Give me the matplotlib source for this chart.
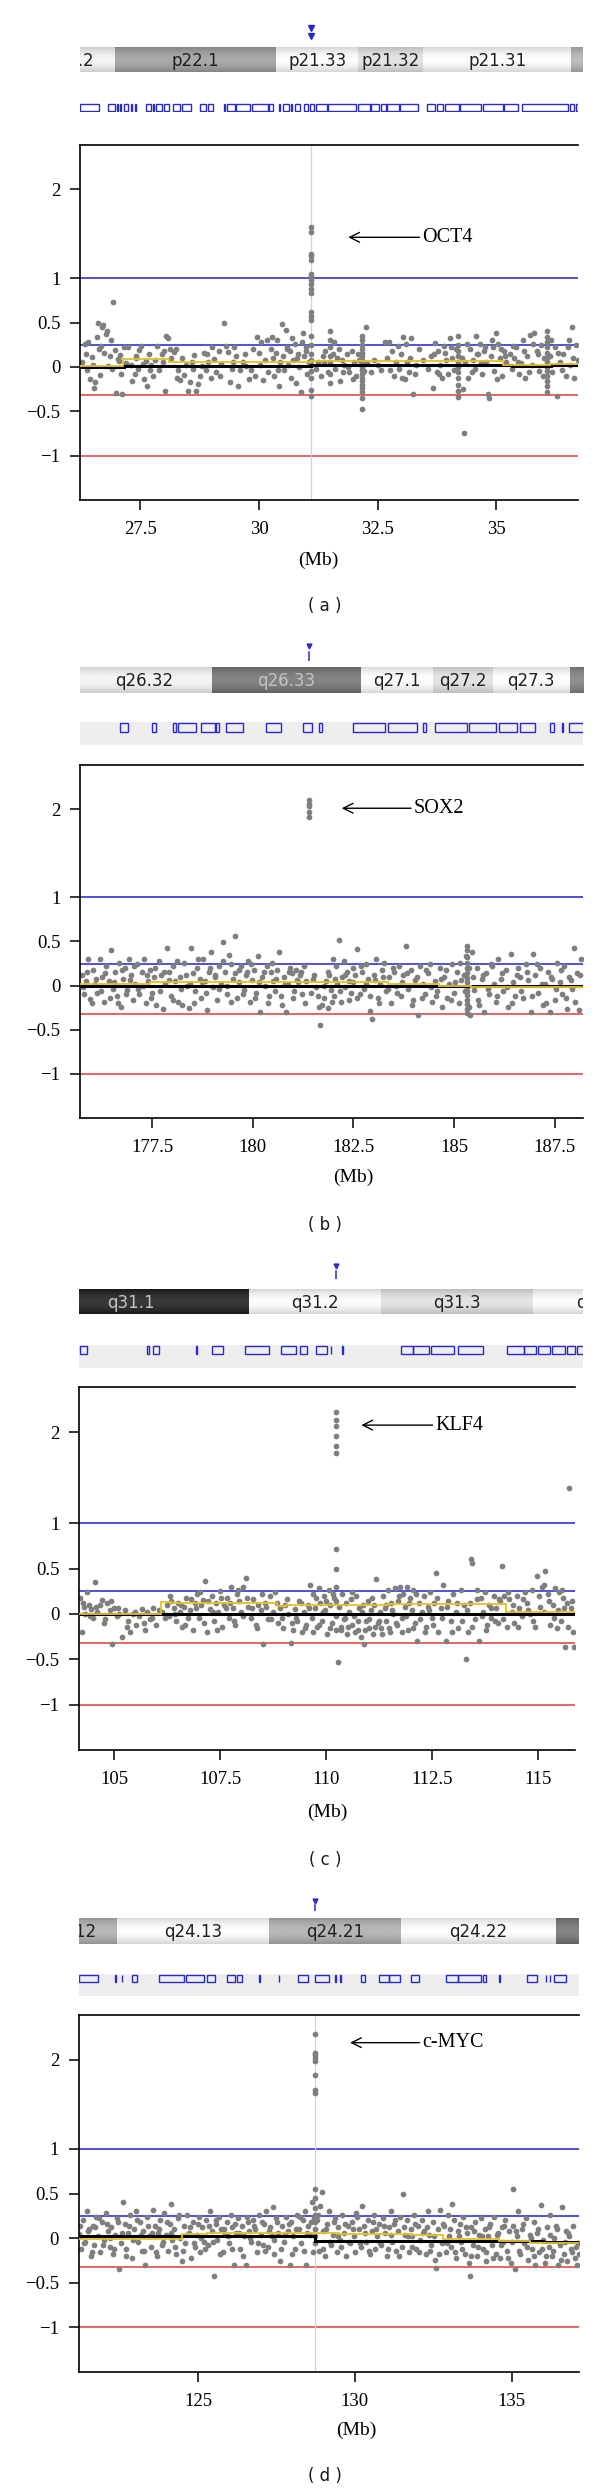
import numpy as np
import matplotlib
matplotlib.use('Agg')
import matplotlib.pyplot as plt
from matplotlib.patches import Rectangle

plt.rcParams['font.family'] = ['Liberation Serif', 'DejaVu Serif']

# ---------------- panel (a) : OCT4, chr6 ----------------
a_xlim = (26.23, 36.72)
a_xticks = [27.5, 30, 32.5, 35]
a_x = [26.28, 26.33, 26.37, 26.40, 26.45, 26.48, 26.52, 26.55, 26.58, 26.61, 26.64, 26.66, 26.70, 26.72, 26.74,
       26.78, 26.80, 26.83, 26.86, 26.90, 26.93, 26.96, 26.99, 27.02, 27.05, 27.08, 27.12, 27.15, 27.20,
       27.25, 27.30, 27.33, 27.38, 27.42, 27.45, 27.48, 27.52, 27.55, 27.58, 27.62, 27.65, 27.68, 27.72, 27.76,
       27.80, 27.85, 27.90, 27.95, 27.98, 28.02, 28.05, 28.08, 28.12, 28.15, 28.20,
       28.25, 28.30, 28.34, 28.38, 28.42, 28.47, 28.50, 28.55, 28.60, 28.63, 28.68, 28.72, 28.76, 28.80, 28.85,
       28.88, 28.93, 28.98, 29.02, 29.06, 29.10, 29.15, 29.20,
       29.26, 29.30, 29.34, 29.38, 29.43, 29.47, 29.52, 29.56, 29.60, 29.66, 29.72, 29.78, 29.84, 29.88, 29.92,
       29.96, 30.00, 30.04, 30.08, 30.12, 30.16, 30.20,
       30.25, 30.28, 30.32, 30.35, 30.38, 30.42, 30.45, 30.48, 30.50, 30.53, 30.56, 30.60, 30.62, 30.65, 30.68,
       30.72, 30.75, 30.78, 30.82, 30.85, 30.88, 30.92, 30.95, 30.98, 31.02, 31.05,
       31.25, 31.30, 31.35, 31.40, 31.45, 31.55, 31.60, 31.65, 31.70, 31.75, 31.80, 31.85, 31.90, 31.95, 32.00,
       32.05, 32.10,
       32.22, 32.25, 32.28, 32.35, 32.42, 32.50, 32.58, 32.65, 32.70, 32.73, 32.76, 32.80, 32.84, 32.88, 32.92,
       32.96, 33.00, 33.04, 33.08, 33.12, 33.16, 33.20, 33.25, 33.30, 33.38,
       33.45, 33.55, 33.62, 33.66, 33.70, 33.74, 33.78, 33.82, 33.86, 33.90, 33.95, 33.99, 34.03, 34.07, 34.10,
       34.14, 34.27, 34.30, 34.32,
       34.35, 34.40, 34.45, 34.50, 34.55, 34.58, 34.62, 34.66, 34.70, 34.74, 34.78, 34.82, 34.85, 34.88, 34.92,
       34.96, 35.00, 35.04, 35.08, 35.12, 35.16, 35.20,
       35.28, 35.33, 35.38, 35.42, 35.47, 35.52, 35.56, 35.60, 35.65, 35.70, 35.75, 35.80, 35.85, 35.90, 35.95,
       36.00, 36.12, 36.18, 36.24, 36.28, 36.34, 36.40, 36.46, 36.52, 36.56, 36.60, 36.64, 36.68, 36.71]
a_y = [0.05, 0.26, -0.04, 0.28, -0.14, 0.11, -0.24, -0.17, 0.34, 0.50, 0.20, -0.09, 0.45, 0.47, 0.16,
       0.37, 0.40, 0.01, 0.12, -0.02, 0.73, 0.19, -0.29, 0.09, 0.07, 0.13, -0.30, 0.22, 0.04,
       0.22, 0.02, -0.16, -0.08, 0.12, -0.02, 0.19, 0.24, 0.03, -0.14, 0.07, -0.21, 0.15, 0.02, -0.10,
       0.08, 0.24, -0.04, 0.14, 0.05, -0.27, 0.35, 0.32, 0.20, 0.10, 0.17,
       0.20, -0.03, -0.15, 0.10, -0.09, 0.02, -0.27, -0.17, -0.02, 0.13, -0.27, -0.19, -0.10, 0.01, 0.16,
       -0.04, 0.06, -0.13, 0.22, 0.09, -0.06, 0.18, 0.03,
       0.50, 0.24, 0.17, -0.17, -0.02, 0.22, 0.12, -0.21, -0.04, 0.05, 0.01, -0.14, -0.03, 0.20, -0.10,
       0.34, 0.16, 0.28, -0.15, 0.08, 0.30, -0.06,
       0.20, 0.34, -0.10, 0.16, 0.30, -0.22, 0.06, 0.48, 0.12, -0.04, 0.41, 0.22, 0.02, 0.18, -0.12,
       0.08, 0.26, -0.18, 0.14, 0.00, -0.28, 0.38, 0.12, 0.22, -0.08, 0.05,
       0.05, -0.10, 0.12, 0.18, -0.06, 0.15, -0.02, 0.10, -0.16, 0.08, 0.02, 0.14, -0.06, 0.18, 0.05,
       -0.10, 0.08,
       -0.05, 0.45, 0.04, -0.06, 0.08, 0.02, -0.04, 0.28, 0.10, 0.28, -0.03, 0.18, -0.10, 0.06, 0.24,
       -0.02, 0.14, 0.34, -0.14, 0.06, -0.06, 0.32, -0.31, 0.02, 0.20,
       0.08, -0.02, 0.12, -0.24, 0.27, -0.06, 0.18, 0.02, -0.12, 0.24, 0.08, -0.08, 0.32, 0.10, -0.04,
       0.20, 0.10, -0.25, -0.74,
       0.05, -0.12, 0.20, 0.08, -0.02, 0.35, 0.14, 0.26, -0.08, 0.18, 0.05, -0.30, -0.35, 0.12, 0.22,
       -0.05, 0.38, 0.26, 0.10, -0.10, 0.18, 0.05,
       0.15, -0.02, 0.10, 0.22, -0.08, 0.04, 0.30, -0.12, 0.12, 0.36, 0.02, 0.38, 0.18, -0.05, 0.25,
       0.10, 0.12, -0.06, 0.22, -0.33, 0.05, 0.15, -0.10, 0.30, 0.02, 0.45, -0.12, 0.25, 0.08]
a_x2 = [26.35, 26.50, 26.68, 26.88, 27.10, 27.40, 27.70, 28.00, 28.28, 28.58,
        28.90, 29.18, 29.45, 29.70, 30.02, 30.30, 30.40, 30.58, 30.70, 30.80,
        30.90, 31.00, 31.20, 31.38, 31.58, 31.68, 31.78, 31.88, 31.98, 32.08,
        32.14, 33.02, 33.10, 33.18, 33.28, 33.68, 33.80, 33.92, 34.05, 34.38,
        34.48, 34.60, 34.68, 34.76, 34.90, 35.02, 35.10, 35.18, 35.36, 35.45,
        35.58, 35.68, 35.78, 35.88, 35.98, 36.15, 36.30, 36.38, 36.50, 36.62]
a_y2 = [0.14, 0.02, 0.24, 0.30, -0.08, 0.10, -0.04, 0.18, -0.12, 0.06,
        0.14, -0.10, 0.06, 0.14, 0.02, 0.10, -0.04, 0.20, 0.32, 0.10,
        0.28, 0.18, -0.02, 0.06, 0.28, 0.20, -0.06, 0.00, -0.14, 0.14,
        0.08, -0.12, 0.26, 0.10, -0.08, 0.14, -0.08, 0.16, 0.22, 0.26,
        -0.06, 0.14, 0.04, 0.22, 0.30, -0.14, 0.20, 0.12, 0.24, 0.06,
        0.18, -0.06, 0.26, 0.14, -0.10, 0.30, 0.16, -0.04, 0.22, 0.10]
# probes stacked at one position
a_col_pos = [31.10, 31.50, 32.18, 34.19, 36.06]
a_col_vals = [[1.58, 1.52, 1.27, 1.25, 1.20, 1.05, 1.02, 0.98, 0.93, 0.88, 0.83, 0.62, 0.57, 0.53, 0.35,
               0.25, 0.15, 0.08, 0.02, -0.05, -0.12, -0.26, -0.33],
              [0.40, 0.30, 0.22, 0.12, 0.05, -0.08, -0.18],
              [0.35, 0.30, 0.25, 0.20, 0.16, 0.12, 0.08, 0.04, 0.00, -0.04, -0.08, -0.12, -0.16, -0.20,
               -0.24, -0.28, -0.35, -0.48],
              [0.35, 0.25, 0.18, 0.12, 0.06, 0.00, -0.06, -0.12, -0.20, -0.27, -0.34],
              [0.40, 0.34, 0.28, 0.22, 0.16, 0.10, 0.05, 0.00, -0.05, -0.10, -0.16, -0.22, -0.28]]
a_black_edges = [26.23, 27.15, 31.10, 35.33, 36.15, 36.72]
a_black_vals = [0.00, 0.01, 0.02, 0.01, 0.02]
a_yellow_edges = [26.23, 27.14, 28.11, 30.87, 31.10, 35.13, 36.14, 36.72]
a_yellow_vals = [0.01, 0.09, 0.055, 0.05, 0.07, 0.02, 0.03]
a_band_edges = [25.10, 26.97, 30.36, 32.09, 33.46, 36.58, 37.50]
a_band_names = ['p22.2', 'p22.1', 'p21.33', 'p21.32', 'p21.31', '']
a_band_tones = [0.95, 0.62, 0.99, 0.88, 0.99, 0.70]
a_genes = [(26.23, 26.64), (26.83, 26.96), (27.00, 27.02), (27.07, 27.09), (27.15, 27.24), (27.30, 27.32),
           (27.38, 27.40), (27.62, 27.72), (27.77, 27.79), (27.83, 27.95), (27.99, 28.11), (28.19, 28.34),
           (28.38, 28.56), (28.76, 28.88), (28.92, 29.04), (29.26, 29.28), (29.33, 29.49), (29.51, 29.81),
           (29.86, 30.18), (30.22, 30.30), (30.42, 30.44), (30.50, 30.63), (30.67, 30.69), (30.75, 30.87),
           (30.95, 31.03), (31.07, 31.15), (31.21, 31.44), (31.45, 32.04), (32.09, 32.33), (32.37, 32.53),
           (32.57, 32.67), (32.69, 32.94), (32.98, 33.34), (33.53, 33.71), (33.75, 33.87), (33.91, 34.21),
           (34.23, 34.68), (34.72, 35.13), (35.17, 35.45), (35.53, 36.51), (36.55, 36.63), (36.67, 36.83)]
a_gene_pos = 31.10
a_note = ('OCT4', 31.88, 33.38, 1.46)

# ---------------- panel (b) : SOX2, chr3 ----------------
b_xlim = (175.71, 188.2)
b_xticks = [177.5, 180, 182.5, 185, 187.5]
b_x = [175.75, 175.80, 175.86, 175.92, 175.97, 176.03, 176.08, 176.14, 176.20, 176.25, 176.30, 176.36,
       176.42, 176.48, 176.53, 176.58, 176.63, 176.68,
       176.72, 176.77, 176.82, 176.87, 176.92, 176.97, 177.02, 177.08, 177.13, 177.18, 177.24, 177.30,
       177.35, 177.40, 177.45, 177.50, 177.55, 177.60, 177.66,
       177.72, 177.78, 177.83, 177.88, 177.93, 177.98, 178.03, 178.08, 178.14, 178.20, 178.25, 178.30,
       178.36, 178.41, 178.46, 178.52, 178.57, 178.62, 178.68,
       178.72, 178.77, 178.82, 178.87, 178.92, 178.97, 179.02, 179.07, 179.12, 179.17, 179.22, 179.27,
       179.32, 179.37, 179.42, 179.47, 179.52, 179.57, 179.62, 179.67,
       179.72, 179.77, 179.82, 179.87, 179.92, 179.97, 180.02, 180.07, 180.12, 180.18, 180.24, 180.30,
       180.35, 180.40, 180.45, 180.50, 180.55, 180.60, 180.66,
       180.72, 180.77, 180.82, 180.87, 180.92, 180.97, 181.02, 181.07, 181.12, 181.17, 181.22, 181.27,
       181.32, 181.45, 181.50, 181.56, 181.62, 181.68,
       181.73, 181.78, 181.82, 181.86, 181.90, 181.94, 181.98, 182.02, 182.06, 182.10, 182.13, 182.18,
       182.22, 182.26, 182.30, 182.35, 182.40, 182.45, 182.50, 182.55, 182.60, 182.66,
       182.72, 182.77, 182.82, 182.87, 182.92, 182.96, 183.00, 183.05, 183.10, 183.15, 183.20, 183.26,
       183.32, 183.38, 183.44, 183.50, 183.56, 183.62, 183.68,
       183.74, 183.80, 183.86, 183.92, 183.98, 184.04, 184.10, 184.16, 184.22, 184.28, 184.34, 184.40,
       184.46, 184.52, 184.58, 184.64, 184.70,
       184.76, 184.82, 184.88, 184.94, 185.00, 185.06, 185.12, 185.18, 185.24, 185.40, 185.45, 185.50,
       185.56, 185.62, 185.68,
       185.74, 185.80, 185.86, 185.92, 185.98, 186.04, 186.10, 186.16, 186.22, 186.28, 186.34, 186.40,
       186.46, 186.52, 186.58, 186.64,
       186.72, 186.78, 186.84, 186.90, 186.96, 187.02, 187.08, 187.14, 187.20, 187.26, 187.32, 187.38,
       187.44, 187.50, 187.56, 187.62, 187.68,
       187.74, 187.80, 187.86, 187.92, 187.98, 188.04, 188.10, 188.16]
b_y = [0.12, -0.10, 0.05, 0.30, -0.15, 0.18, 0.02, -0.08, 0.30, 0.10, -0.18, 0.22, 0.05, 0.40, -0.04,
       0.15, -0.12, 0.26,
       -0.24, 0.08, 0.20, -0.05, 0.30, 0.12, -0.16, 0.02, 0.25, -0.10, 0.15, 0.30, -0.20, 0.05, 0.18,
       -0.08, 0.10, -0.22, 0.28,
       0.12, -0.26, 0.02, 0.43, 0.15, -0.12, 0.22, 0.05, -0.18, 0.10, -0.22, 0.26, 0.00, -0.25, 0.43,
       0.14, -0.06, 0.20, 0.08,
       -0.14, 0.30, 0.05, -0.28, 0.16, 0.38, -0.02, 0.12, -0.16, 0.22, 0.02, 0.49, 0.15, -0.10, 0.35,
       0.25, 0.08, 0.56, -0.14, 0.18,
       0.22, -0.05, 0.12, 0.28, -0.18, 0.06, 0.18, -0.08, 0.34, -0.30, 0.10, 0.00, 0.22, -0.12, 0.15,
       0.05, -0.06, 0.18, 0.38,
       -0.22, 0.10, -0.30, 0.02, 0.20, 0.14, -0.06, 0.18, 0.04, 0.12, -0.10, 0.22, 0.05, -0.08, 0.08,
       -0.02, -0.12, -0.45,
       -0.22, -0.14, 0.05, -0.25, 0.12, -0.05, 0.30, -0.12, 0.22, 0.02, 0.52, -0.18, 0.10, 0.28, -0.02,
       0.16, 0.05, -0.08, 0.20, 0.12, 0.42, -0.10,
       0.15, -0.04, 0.25, 0.08, -0.29, -0.38, 0.12, 0.30, -0.14, 0.02, 0.18, 0.26, -0.06, 0.10, -0.20,
       0.16, 0.00, 0.22, -0.12,
       0.12, 0.45, -0.04, 0.18, -0.16, 0.06, -0.33, 0.22, 0.02, -0.10, 0.14, 0.25, -0.18, 0.05, -0.06,
       0.20, -0.24,
       0.10, -0.14, 0.02, 0.24, -0.08, 0.15, -0.20, 0.06, 0.12, -0.33, 0.38, -0.05, 0.20, -0.22, 0.08,
       -0.30, 0.14, -0.10, 0.24, 0.02, -0.18, 0.30, 0.08, -0.06, 0.18, -0.24, 0.36, 0.04, -0.12, 0.20,
       0.10,
       -0.14, 0.24, 0.06, -0.30, 0.36, 0.12, -0.08, 0.20, -0.22, 0.02, 0.16, -0.30, 0.08, -0.16, 0.26,
       0.04, -0.10,
       0.22, -0.26, 0.10, -0.04, 0.43, 0.14, -0.28, 0.30]
b_x2 = [175.78, 175.89, 176.00, 176.11, 176.22, 176.33, 176.45, 176.56, 176.66, 176.75,
        176.85, 176.95, 177.05, 177.16, 177.27, 177.38, 177.48, 177.58, 177.69, 177.80,
        177.91, 178.01, 178.11, 178.22, 178.33, 178.44, 178.55, 178.65, 178.75, 178.85,
        178.95, 179.05, 179.15, 179.25, 179.35, 179.45, 179.55, 179.65, 179.75, 179.85,
        179.95, 180.05, 180.15, 180.27, 180.38, 180.48, 180.58, 180.69, 180.80, 180.90,
        181.00, 181.10, 181.20, 181.30, 181.53, 181.65, 181.76, 181.88, 181.96, 182.04,
        182.16, 182.28, 182.38, 182.48, 182.58, 182.69, 182.80, 182.90, 183.03, 183.13,
        183.24, 183.35, 183.47, 183.59, 183.71, 183.83, 183.95, 184.07, 184.19, 184.31,
        184.43, 184.55, 184.67, 184.79, 184.91, 185.03, 185.15, 185.27, 185.30, 185.36,
        185.38, 185.48, 185.59, 185.71, 185.83, 185.95, 186.07, 186.19, 186.31, 186.43,
        186.55, 186.67, 186.81, 186.93, 187.05, 187.17, 187.29, 187.41, 187.53, 187.65,
        187.77, 187.89, 188.01, 188.13]
b_y2 = [-0.02, 0.16, -0.20, 0.08, -0.06, 0.14, -0.14, 0.04, -0.20, 0.18,
        -0.10, 0.06, 0.22, -0.04, 0.00, 0.12, -0.14, 0.20, -0.06, 0.16,
        0.06, -0.16, 0.28, -0.04, 0.12, 0.02, -0.20, 0.30, 0.04, -0.08,
        0.20, 0.10, -0.04, 0.28, 0.00, -0.18, 0.14, 0.04, -0.10, 0.16,
        0.24, -0.14, 0.04, 0.16, -0.20, 0.26, 0.08, -0.12, 0.02, 0.16,
        -0.14, 0.06, 0.16, -0.20, 0.12, -0.24, 0.00, 0.16, -0.18, 0.08,
        -0.06, 0.12, -0.16, 0.04, -0.14, 0.22, 0.02, -0.12, 0.06, -0.20,
        0.10, -0.04, 0.20, -0.08, 0.04, 0.14, -0.22, 0.10, -0.14, 0.18,
        -0.02, -0.12, 0.08, 0.18, -0.16, 0.04, 0.26, -0.06, 0.34, -0.24,
        0.20, 0.10, -0.16, 0.12, -0.04, 0.22, -0.12, 0.14, -0.02, -0.20,
        0.12, -0.06, 0.16, -0.12, 0.24, 0.02, -0.20, 0.10, -0.04, 0.18,
        -0.14, 0.06, -0.18, 0.12]
b_col_pos = [181.40, 185.33]
b_col_vals = [[2.10, 2.06, 2.03, 1.97, 1.91],
              [0.45, 0.40, 0.32, 0.26, 0.20, 0.14, 0.09, 0.04, -0.01, -0.06, -0.11, -0.16, -0.21, -0.26,
               -0.31]]
b_black_edges = [175.71, 184.62, 188.2]
b_black_vals = [0.00, 0.00]
b_yellow_edges = [175.71, 177.45, 181.42, 183.37, 184.62, 185.43, 188.2]
b_yellow_vals = [0.02, 0.04, 0.045, 0.02, 0.0, -0.015]
b_band_edges = [175.60, 178.99, 182.68, 184.47, 185.96, 187.87, 189.0]
b_band_names = ['q26.32', 'q26.33', 'q27.1', 'q27.2', 'q27.3', '']
b_band_tones = [0.95, 0.45, 0.99, 0.88, 0.99, 0.50]
b_genes = [(176.71, 176.90), (177.50, 177.60), (178.01, 178.10), (178.14, 178.58), (178.71, 179.06),
           (179.08, 179.17), (179.34, 179.76), (180.32, 180.70), (181.25, 181.46), (181.65, 181.73),
           (182.50, 183.28), (183.35, 184.09), (184.23, 184.31), (184.52, 185.33), (185.38, 186.05),
           (186.12, 186.57), (186.64, 187.00), (187.39, 187.48), (187.69, 187.71), (187.86, 188.30)]
b_gene_pos = 181.40
b_note = ('SOX2', 182.21, 183.93, 2.01)

# ---------------- panel (c) : KLF4, chr9 ----------------
c_xlim = (104.17, 115.87)
c_xticks = [105, 107.5, 110, 112.5, 115]
c_x = [104.20, 104.24, 104.28, 104.32, 104.36, 104.40, 104.45, 104.50, 104.55, 104.60, 104.66, 104.72,
       104.78, 104.84, 104.90, 104.95, 105.00, 105.06, 105.12, 105.18,
       105.25, 105.32, 105.38, 105.45, 105.52, 105.58, 105.65, 105.72, 105.78, 105.85, 105.92, 105.98,
       106.05, 106.12,
       106.25, 106.30, 106.35, 106.40, 106.45, 106.50, 106.55, 106.60, 106.65, 106.70, 106.75, 106.80,
       106.85, 106.90, 106.95, 107.00, 107.05, 107.10, 107.15, 107.20,
       107.25, 107.30, 107.35, 107.40, 107.45, 107.50, 107.55, 107.60, 107.65, 107.70, 107.75, 107.80,
       107.85, 107.90, 107.95, 108.00, 108.05, 108.10, 108.15,
       108.22, 108.28, 108.34, 108.40, 108.46, 108.50, 108.56, 108.62, 108.68, 108.74, 108.80, 108.86,
       108.92, 108.98, 109.04, 109.10, 109.17,
       109.22, 109.27, 109.32, 109.37, 109.42, 109.47, 109.52, 109.57, 109.62, 109.66, 109.70, 109.74,
       109.78, 109.82, 109.86, 109.90, 109.94, 109.98, 110.02, 110.06, 110.10, 110.14, 110.18, 110.29,
       110.30, 110.34, 110.38, 110.42, 110.46, 110.50, 110.54, 110.58, 110.62, 110.66, 110.70, 110.74,
       110.78, 110.82, 110.86, 110.90, 110.94, 110.98, 111.02, 111.06, 111.10, 111.14, 111.18, 111.22,
       111.26,
       111.30, 111.34, 111.38, 111.42, 111.46, 111.50, 111.54, 111.58, 111.62, 111.66, 111.70, 111.74,
       111.78, 111.82, 111.86, 111.90, 111.94, 111.98, 112.02, 112.06, 112.10, 112.15, 112.20, 112.25,
       112.30, 112.35, 112.40, 112.45, 112.50, 112.55, 112.59, 112.64, 112.70, 112.76, 112.82, 112.88,
       112.94, 113.00, 113.06, 113.12, 113.18, 113.24, 113.29,
       113.34, 113.39, 113.42, 113.45, 113.50, 113.55, 113.60, 113.65, 113.70, 113.75, 113.80, 113.85,
       113.90, 113.95, 114.00, 114.05, 114.10, 114.15, 114.20, 114.26,
       114.32, 114.38, 114.44, 114.50, 114.56, 114.62, 114.68, 114.74, 114.80, 114.86, 114.92, 114.98,
       115.04, 115.10, 115.17, 115.23, 115.29, 115.35, 115.41, 115.47, 115.53, 115.58, 115.63, 115.68,
       115.73, 115.78, 115.83, 115.85]
c_y = [0.18, -0.20, 0.08, 0.00, 0.24, 0.10, 0.05, -0.05, 0.35, 0.02, 0.10, 0.15, -0.06, 0.12, 0.04,
       -0.33, 0.06, -0.02, 0.00, -0.26,
       0.04, -0.08, -0.20, 0.00, -0.12, -0.02, 0.05, -0.18, 0.02, -0.06, 0.06, -0.12, 0.04, 0.02,
       0.10, -0.02, 0.14, 0.06, -0.08, 0.12, 0.02, -0.15, 0.08, 0.18, -0.05, 0.04, -0.18, 0.12, 0.22,
       -0.04, 0.10, 0.15, 0.36, -0.20,
       0.05, 0.20, -0.08, 0.12, 0.02, 0.25, -0.14, 0.10, 0.18, -0.04, 0.30, 0.06, -0.12, 0.22, 0.14,
       0.02, 0.30, 0.40, 0.08,
       -0.04, 0.16, -0.12, 0.10, 0.04, -0.33, 0.12, -0.06, 0.20, 0.02, 0.24, -0.10, 0.06, -0.16, 0.10,
       0.00, -0.32,
       -0.18, 0.05, -0.08, 0.14, -0.20, 0.02, -0.12, 0.10, 0.32, -0.05, 0.22, 0.06, -0.15, 0.28, 0.12,
       -0.08, 0.20, 0.04, -0.22, 0.26, 0.10, -0.10, 0.18, -0.53,
       0.08, -0.14, 0.22, -0.06, 0.12, -0.22, 0.02, 0.16, -0.12, -0.02, 0.20, -0.18, 0.06, -0.26, 0.10,
       -0.33, -0.08, 0.14, -0.16, 0.04, -0.22, 0.10, 0.38, -0.10, 0.02,
       -0.16, 0.20, 0.06, -0.08, 0.26, -0.20, 0.12, 0.00, 0.28, -0.12, 0.14, 0.30, -0.04, 0.22, 0.08,
       0.30, -0.18, 0.18, 0.04, 0.26, -0.10, -0.30, 0.12, 0.02,
       0.20, -0.14, 0.08, 0.24, -0.04, 0.12, 0.45, -0.20, 0.06, 0.32, -0.30, 0.14, -0.08, 0.22, 0.02,
       -0.16, 0.26, 0.10, -0.50,
       -0.20, 0.12, 0.60, 0.56, -0.06, 0.26, -0.30, 0.18, 0.02, 0.24, -0.12, 0.10, -0.04, 0.20, 0.06,
       -0.10, 0.14, 0.53, 0.20, -0.14,
       0.16, 0.02, -0.10, 0.20, 0.06, -0.02, 0.24, 0.12, 0.00, 0.26, -0.14, 0.42, 0.08, 0.30, 0.47,
       0.22, -0.12, 0.10, 0.28, 0.04, -0.08, 0.18, -0.37, 0.12, 1.39, 0.06, -0.20, -0.36]
c_x2 = [104.26, 104.42, 104.58, 104.75, 104.92, 105.10, 105.30, 105.50, 105.70, 105.90,
        106.20, 106.32, 106.43, 106.57, 106.68, 106.82, 106.92, 107.02, 107.12, 107.22,
        107.33, 107.43, 107.53, 107.63, 107.73, 107.83, 107.93, 108.03, 108.13, 108.25,
        108.37, 108.48, 108.59, 108.71, 108.83, 108.95, 109.07, 109.20, 109.30, 109.40,
        109.50, 109.60, 109.68, 109.76, 109.84, 109.92, 110.00, 110.08, 110.16, 110.36,
        110.44, 110.52, 110.60, 110.68, 110.76, 110.84, 110.92, 111.00, 111.08, 111.16,
        111.24, 111.32, 111.40, 111.48, 111.56, 111.64, 111.72, 111.80, 111.88, 111.96,
        112.04, 112.12, 112.22, 112.32, 112.42, 112.52, 112.62, 112.73, 112.85, 112.97,
        113.09, 113.21, 113.32, 113.44, 113.57, 113.68, 113.78, 113.88, 113.98, 114.08,
        114.18, 114.29, 114.41, 114.53, 114.65, 114.77, 114.89, 115.01, 115.13, 115.26,
        115.38, 115.50, 115.61, 115.71, 115.80, 115.15, 115.44, 115.56]
c_y2 = [0.12, -0.02, 0.08, -0.10, 0.14, 0.06, -0.14, 0.02, -0.10, -0.04,
        -0.04, 0.20, 0.00, 0.10, -0.12, 0.16, 0.06, 0.24, -0.10, 0.14,
        0.02, -0.18, 0.18, 0.06, 0.12, -0.08, 0.26, -0.02, 0.18, 0.06,
        -0.16, 0.22, 0.08, -0.06, 0.12, -0.04, 0.16, -0.10, -0.04, 0.12,
        -0.16, 0.06, -0.20, 0.18, -0.12, 0.02, 0.14, -0.16, 0.22, -0.18,
        -0.04, -0.14, 0.24, -0.20, -0.08, 0.02, -0.18, -0.06, 0.18, -0.14,
        -0.08, -0.22, 0.10, -0.16, 0.04, -0.10, 0.20, -0.20, -0.02, 0.12,
        -0.16, 0.22, -0.06, -0.20, 0.04, -0.12, 0.18, -0.04, 0.08, -0.20,
        0.12, -0.08, 0.04, -0.14, 0.16, -0.02, -0.18, 0.06, -0.08, 0.16,
        -0.06, 0.24, 0.10, -0.14, 0.16, 0.04, -0.08, 0.20, 0.02, 0.14,
        -0.04, 0.24, 0.06, -0.14, 0.14, 0.32, -0.16, 0.26]
c_col_pos = [110.23]
c_col_vals = [[2.23, 2.14, 2.07, 1.96, 1.85, 1.77, 0.72, 0.50, 0.30, 0.14, -0.02, -0.18]]
c_black_edges = [104.17, 115.87]
c_black_vals = [0.00]
c_yellow_edges = [104.17, 106.10, 106.35, 108.85, 109.05, 111.45, 114.25, 115.87]
c_yellow_vals = [0.00, 0.13, 0.12, 0.09, 0.10, 0.11, 0.02]
c_band_edges = [102.61, 108.18, 111.29, 114.88, 117.66]
c_band_names = ['q31.1', 'q31.2', 'q31.3', 'q32']
c_band_tones = [0.12, 0.99, 0.88, 0.99]
c_genes = [(104.19, 104.35), (105.75, 105.80), (105.89, 106.03), (106.88, 106.91), (107.25, 107.52),
           (108.02, 108.57), (108.86, 109.20), (109.29, 109.47), (109.67, 109.93), (110.01, 110.03),
           (110.28, 110.30), (111.65, 111.92), (111.92, 112.29), (112.33, 112.88), (112.97, 113.56),
           (114.10, 114.51), (114.51, 114.78), (114.83, 115.10), (115.14, 115.46), (115.51, 115.69),
           (115.73, 116.05)]
c_gene_pos = 110.23
c_note = ('KLF4', 110.83, 112.51, 2.08)

# ---------------- panel (d) : c-MYC, chr8 ----------------
d_xlim = (121.19, 137.15)
d_xticks = [125, 130, 135]
d_x = [121.22, 121.28, 121.34, 121.40, 121.46, 121.52, 121.58, 121.64, 121.70, 121.76, 121.82, 121.88,
       121.94, 122.00, 122.06, 122.12, 122.18,
       122.24, 122.30, 122.36, 122.42, 122.48, 122.54, 122.60, 122.66, 122.72, 122.78, 122.84, 122.90,
       122.96, 123.02, 123.08, 123.14, 123.20,
       123.26, 123.32, 123.38, 123.44, 123.50, 123.56, 123.62, 123.68, 123.74, 123.80, 123.86, 123.92,
       123.98, 124.04, 124.10, 124.14, 124.18,
       124.24, 124.30, 124.36, 124.42, 124.48, 124.54, 124.60, 124.66, 124.72, 124.78, 124.84, 124.90,
       124.96, 125.02, 125.08, 125.14, 125.20,
       125.26, 125.32, 125.38, 125.44, 125.50, 125.56, 125.62, 125.68, 125.74, 125.80, 125.86, 125.92,
       125.98, 126.04, 126.10, 126.16,
       126.22, 126.28, 126.34, 126.40, 126.46, 126.52, 126.58, 126.64, 126.70, 126.76, 126.82, 126.88,
       126.94, 127.00, 127.06, 127.12, 127.18,
       127.24, 127.30, 127.36, 127.39, 127.44, 127.50, 127.56, 127.62, 127.68, 127.74, 127.80, 127.86,
       127.92, 127.98, 128.04, 128.10, 128.16,
       128.22, 128.28, 128.34, 128.40, 128.46, 128.52, 128.58, 128.64, 128.70,
       128.80, 128.86, 128.90, 128.95, 129.00, 129.06, 129.12, 129.18, 129.24, 129.30, 129.36, 129.42,
       129.48, 129.54, 129.60, 129.66, 129.72, 129.78,
       129.84, 129.90, 129.96, 130.02, 130.08, 130.14, 130.20, 130.24, 130.30, 130.36, 130.42, 130.48,
       130.54, 130.60, 130.66, 130.72, 130.78,
       130.84, 130.90, 130.96, 131.02, 131.08, 131.14, 131.20, 131.26, 131.32, 131.38, 131.44, 131.50,
       131.54, 131.60, 131.66, 131.72, 131.78,
       131.84, 131.90, 131.96, 132.02, 132.08, 132.14, 132.20, 132.26, 132.32, 132.38, 132.44, 132.50,
       132.56, 132.60, 132.66, 132.72, 132.78,
       132.84, 132.90, 132.96, 133.02, 133.08, 133.10, 133.16, 133.22, 133.28, 133.34, 133.40, 133.46,
       133.52, 133.58, 133.64, 133.67, 133.72, 133.78,
       133.84, 133.90, 133.96, 134.02, 134.08, 134.14, 134.20, 134.26, 134.32, 134.38, 134.44, 134.50,
       134.56, 134.62, 134.68, 134.74, 134.80,
       134.86, 134.92, 134.98, 135.04, 135.06, 135.10, 135.16, 135.22, 135.28, 135.34, 135.40, 135.46,
       135.52, 135.58, 135.64, 135.70, 135.76,
       135.82, 135.88, 135.94, 136.00, 136.06, 136.12, 136.18, 136.24, 136.30, 136.36, 136.42, 136.48,
       136.54, 136.60, 136.66, 136.72, 136.78, 136.84, 136.90, 136.96, 137.02, 137.08, 137.12]
d_y = [0.05, -0.12, 0.20, -0.04, 0.30, 0.10, -0.20, 0.14, -0.08, 0.24, 0.02, -0.16, 0.18, -0.02, 0.28,
       0.08, -0.10,
       0.12, -0.18, 0.04, 0.22, -0.35, -0.06, 0.40, 0.16, -0.12, 0.06, 0.26, -0.22, 0.10, 0.30, -0.04,
       0.18, -0.14,
       0.08, -0.30, 0.24, 0.02, -0.10, 0.32, 0.14, -0.20, 0.06, 0.20, -0.08, 0.28, 0.04, -0.14, 0.16,
       0.38, -0.02,
       0.10, -0.18, 0.22, 0.00, -0.26, 0.14, -0.06, 0.26, 0.06, -0.22, 0.18, -0.10, 0.04, 0.24, -0.16,
       0.12, -0.04,
       0.20, -0.08, 0.30, 0.08, -0.42, 0.16, -0.02, 0.24, 0.10, -0.16, 0.04, 0.18, -0.06, 0.26, 0.12,
       -0.30,
       0.06, 0.22, -0.12, 0.14, 0.02, -0.30, 0.18, 0.08, -0.04, 0.20, 0.10, -0.16, 0.26, 0.04, -0.08,
       0.16, 0.30,
       -0.10, 0.12, 0.02, 0.35, -0.18, 0.22, 0.06, -0.26, 0.14, -0.04, 0.24, 0.08, -0.30, 0.18, 0.02,
       -0.12, 0.26,
       0.10, -0.06, 0.20, 0.30, -0.30, 0.14, 0.04, 0.40, 0.22,
       0.20, -0.14, 0.36, 0.52, 0.08, -0.20, 0.16, 0.30, -0.08, 0.04, 0.22, -0.16, 0.12, -0.02, 0.26,
       0.06, -0.20, 0.14,
       -0.06, 0.18, 0.02, -0.16, 0.24, 0.10, -0.10, 0.36, 0.14, -0.04, 0.20, -0.18, 0.08, 0.26, -0.12,
       0.02, 0.16,
       -0.08, 0.22, 0.06, -0.20, 0.12, 0.30, -0.04, 0.16, -0.14, 0.08, 0.24, -0.10, 0.50, 0.04, 0.20,
       -0.16, 0.10,
       0.02, 0.26, -0.12, 0.14, -0.02, 0.20, 0.08, -0.18, 0.30, 0.04, -0.08, 0.18, -0.24, -0.33, 0.10,
       0.32, -0.06,
       0.14, -0.16, 0.26, 0.02, -0.10, 0.38, 0.20, -0.22, 0.08, 0.16, -0.04, 0.24, -0.18, 0.06, -0.28,
       -0.42, 0.12, -0.08,
       0.18, -0.20, 0.04, 0.22, -0.12, 0.10, -0.26, 0.02, 0.16, -0.08, 0.24, -0.18, 0.06, -0.22, 0.12,
       -0.04, 0.20,
       -0.14, 0.08, -0.28, 0.14, 0.55, -0.35, 0.02, 0.30, -0.18, 0.10, -0.06, 0.22, -0.24, 0.04, -0.12,
       0.18, -0.30,
       0.06, -0.16, 0.37, -0.02, -0.28, 0.12, -0.10, 0.26, -0.20, 0.00, 0.14, -0.30, -0.08, 0.35, -0.18,
       0.08, -0.26, 0.02, -0.12, 0.14, -0.22, -0.30, -0.06]
d_x2 = [121.25, 121.37, 121.49, 121.61, 121.73, 121.85, 121.97, 122.09, 122.21, 122.33,
        122.45, 122.57, 122.69, 122.81, 122.93, 123.05, 123.17, 123.29, 123.41, 123.53,
        123.65, 123.77, 123.89, 124.01, 124.13, 124.27, 124.39, 124.51, 124.63, 124.75,
        124.87, 124.99, 125.11, 125.23, 125.35, 125.47, 125.59, 125.71, 125.83, 125.95,
        126.07, 126.19, 126.31, 126.43, 126.55, 126.67, 126.79, 126.91, 127.03, 127.15,
        127.27, 127.41, 127.53, 127.65, 127.77, 127.89, 128.01, 128.13, 128.25, 128.37,
        128.49, 128.61, 128.67, 128.83, 128.98, 129.09, 129.21, 129.33, 129.45, 129.57,
        129.69, 129.81, 129.93, 130.05, 130.17, 130.33, 130.45, 130.57, 130.69, 130.81,
        130.93, 131.05, 131.17, 131.29, 131.41, 131.57, 131.69, 131.81, 131.93, 132.05,
        132.17, 132.29, 132.41, 132.53, 132.69, 132.81, 132.93, 133.05, 133.19, 133.31,
        133.43, 133.55, 133.70, 133.81, 133.93, 134.05, 134.17, 134.29, 134.41, 134.53,
        134.65, 134.77, 134.89, 135.01, 135.13, 135.25, 135.37, 135.49, 135.61, 135.73,
        135.85, 135.97, 136.09, 136.21, 136.33, 136.45, 136.57, 136.69, 136.81, 136.93,
        137.05, 137.14]
d_y2 = [0.14, -0.06, 0.08, -0.16, 0.12, 0.22, -0.08, 0.16, 0.00, -0.12,
        0.18, 0.06, -0.20, 0.14, -0.02, 0.20, 0.04, -0.14, 0.14, 0.06,
        -0.16, 0.10, -0.04, 0.18, 0.06, -0.10, 0.26, -0.14, 0.04, 0.12,
        -0.06, 0.16, 0.00, -0.12, 0.14, -0.04, 0.20, -0.18, 0.10, 0.02,
        -0.12, 0.16, 0.06, -0.20, 0.24, 0.00, 0.14, -0.06, 0.18, -0.14,
        0.08, -0.02, 0.18, -0.12, 0.04, 0.16, -0.18, 0.10, 0.24, -0.14,
        0.06, 0.18, -0.16, 0.26, -0.12, 0.10, -0.04, 0.18, 0.02, -0.10,
        0.16, -0.04, 0.10, 0.28, -0.06, 0.06, -0.14, 0.18, 0.10, -0.06,
        0.14, -0.12, 0.04, 0.20, -0.20, 0.12, 0.02, -0.10, 0.16, -0.16,
        0.06, 0.12, -0.14, 0.02, -0.18, 0.16, -0.06, 0.10, -0.16, 0.02,
        -0.12, 0.12, -0.20, 0.08, -0.10, 0.02, -0.16, 0.12, -0.22, 0.04,
        -0.08, 0.14, -0.22, -0.04, 0.08, -0.14, 0.16, -0.10, 0.00, -0.20,
        0.10, -0.12, -0.20, 0.04, -0.14, 0.10, -0.24, -0.04, 0.06, -0.16,
        -0.10, -0.18]
d_col_pos = [128.74]
d_col_vals = [[2.29, 2.07, 2.05, 2.02, 1.99, 1.83, 1.66, 1.63, 0.55, 0.45, 0.34, 0.26, 0.18, 0.10, 0.02,
               -0.06]]
d_black_edges = [121.19, 128.74, 136.0, 137.15]
d_black_vals = [0.02, -0.03, -0.04]
d_yellow_edges = [121.19, 124.5, 125.3, 129.5, 131.8, 132.8, 134.6, 135.6, 137.15]
d_yellow_vals = [-0.01, 0.05, 0.06, 0.05, 0.04, -0.01, -0.03, -0.06]
d_band_edges = [119.22, 122.42, 127.27, 131.48, 136.42, 138.0]
d_band_names = ['q24.12', 'q24.13', 'q24.21', 'q24.22', '']
d_band_tones = [0.68, 0.99, 0.68, 0.99, 0.45]
d_genes = [(121.20, 121.81), (122.35, 122.37), (122.57, 122.59), (122.91, 123.07), (123.77, 124.55),
           (124.63, 125.18), (125.28, 125.55), (125.92, 126.17), (126.23, 126.41), (126.95, 126.97),
           (127.57, 127.59), (128.19, 128.50), (128.72, 129.17), (129.37, 129.39), (129.53, 129.55),
           (130.21, 130.31), (130.77, 131.10), (131.10, 131.44), (131.79, 132.06), (132.91, 133.28),
           (133.28, 134.02), (134.08, 134.20), (134.60, 134.62), (135.49, 135.80), (136.09, 136.11),
           (136.22, 136.24), (136.35, 136.72)]
d_gene_pos = 128.74
d_note = ('c-MYC', 129.85, 132.06, 2.19)

W, H = 600, 2491
fig = plt.figure(figsize=(W / 100, H / 100), dpi=100)

BLUE = '#5050e0'
RED = '#e86464'
GENE = '#2a2acc'


def px_axes(left, top, right, bottom):
    return fig.add_axes([left / W, 1 - bottom / H, (right - left) / W, (bottom - top) / H])


def stretch(xlim, left, right, new_right):
    k = (xlim[1] - xlim[0]) / (right - left)
    return (xlim[0], xlim[0] + (new_right - left) * k)


def draw_ideogram(box, xlim, edges, names, tones):
    ax = px_axes(*box)
    s = np.sin(np.linspace(0, np.pi, 40))[:, None]
    for i in range(len(names)):
        t = tones[i]
        img = np.clip(t * (0.85 + 0.15 * s) + 0.12 * s * (1 - t), 0, 1)
        ax.imshow(img, cmap='gray', vmin=0, vmax=1, aspect='auto', interpolation='bilinear',
                  extent=[edges[i], edges[i + 1], 0, 1])
        if names[i]:
            ax.text((edges[i] + edges[i + 1]) / 2, 0.45, names[i], ha='center', va='center',
                    fontsize=12, family='DejaVu Sans', clip_on=True,
                    color='#c4c4c4' if t < 0.5 else '#202020')
    ax.set_xlim(xlim)
    ax.set_ylim(0, 1)
    ax.axis('off')


def draw_genes(box, xlim, genes, y0, y1, bg):
    ax = px_axes(*box)
    ax.set_xlim(xlim)
    ax.set_ylim(0, 1)
    ax.set_facecolor(bg)
    for s, e in genes:
        ax.add_patch(Rectangle((s, y0), max(e - s, 0.02), y1 - y0, fill=False, edgecolor=GENE, lw=1))
    for sp in ax.spines.values():
        sp.set_visible(False)
    ax.set_xticks([])
    ax.set_yticks([])


def draw_marker(box, xlim, pos, n_tri=1):
    ax = px_axes(*box)
    ax.set_xlim(xlim)
    ax.set_ylim(0, 1)
    ax.axis('off')
    if n_tri == 2:
        ax.plot([pos, pos], [0.75, 0.25], ls='none', marker='v', ms=4.5, color=GENE)
    else:
        ax.plot([pos], [0.8], ls='none', marker='v', ms=3.5, color=GENE)
        ax.plot([pos, pos], [0.0, 0.5], color=GENE, lw=1.1)


def draw_main(box, xlim, xticks, pts, col_pos, col_vals, black, yellow, note, vline=None):
    ax = px_axes(*box)
    x, y = [], []
    for xs, ys in pts:
        x += list(xs)
        y += list(ys)
    for p, vals in zip(col_pos, col_vals):
        x += [p] * len(vals)
        y += vals
    for v, c in [(1, BLUE), (0.25, BLUE), (-0.32, RED), (-1, RED)]:
        ax.axhline(v, color=c, lw=1.4, zorder=1)
    if vline is not None:
        ax.axvline(vline, color='#cdd0f2', lw=0.9, zorder=1)
    ax.scatter(x, y, s=17, color='#7f7f7f', linewidths=0, zorder=2)
    ax.stairs(black[1], black[0], baseline=None, color='black', lw=2.2, zorder=3)
    ax.stairs(yellow[1], yellow[0], baseline=None, color='#e6c21e', lw=1.3, zorder=4)
    name, head, tail, yv = note
    ax.annotate('', xy=(head, yv), xytext=(tail, yv),
                arrowprops=dict(arrowstyle='->,head_length=0.7,head_width=0.35', color='black', lw=1,
                                shrinkA=0, shrinkB=0))
    ax.text(tail + (xlim[1] - xlim[0]) * 0.006, yv, name, ha='left', va='center', fontsize=14.5)
    ax.set_xlim(xlim)
    ax.set_ylim(-1.5, 2.5)
    ax.set_xticks(xticks)
    ax.set_xticklabels(['%g' % t for t in xticks])
    ax.set_yticks([-1, -0.5, 0, 0.5, 1, 2])
    ax.set_yticklabels(['\u22121', '\u22120.5', '0', '0.5', '1', '2'])
    ax.spines['right'].set_visible(False)
    for k in ['left', 'bottom', 'top']:
        ax.spines[k].set_linewidth(1.2)
    ax.tick_params(direction='out', length=7, width=1.1, labelsize=13.5)
    ax.tick_params(axis='y', pad=7)
    ax.tick_params(axis='x', pad=8)
    return ax


def panel(tag, main_box, xlim, xticks, data, ideo_box, gene_box, gene_y, bg, marker_box, n_tri,
          mb_xy, label_y, vline):
    pts, col_pos, col_vals, black, yellow, edges, names, tones, genes, gpos, note = data
    left, right = main_box[0], main_box[2]
    draw_marker(marker_box, xlim, gpos, n_tri)
    draw_ideogram(ideo_box, stretch(xlim, left, right, ideo_box[2]), edges, names, tones)
    draw_genes(gene_box, xlim, genes, gene_y[0], gene_y[1], bg)
    ax = draw_main(main_box, xlim, xticks, pts, col_pos, col_vals, black, yellow, note,
                   gpos if vline else None)
    fig.text(mb_xy[0] / W, 1 - mb_xy[1] / H, '(Mb)', ha='center', va='center', fontsize=14)
    fig.text(325 / W, 1 - label_y / H, '( %s )' % tag, ha='center', va='center', fontsize=12,
             family='DejaVu Sans', color='#1a1a1a')
    return ax


for xs, ys in [(a_x, a_y), (a_x2, a_y2), (b_x, b_y), (b_x2, b_y2), (c_x, c_y), (c_x2, c_y2),
               (d_x, d_y), (d_x2, d_y2)]:
    assert len(xs) == len(ys)

panel('a', (80, 145, 578, 500), a_xlim, a_xticks,
      ([(a_x, a_y), (a_x2, a_y2)], a_col_pos, a_col_vals, (a_black_edges, a_black_vals),
       (a_yellow_edges, a_yellow_vals), a_band_edges, a_band_names, a_band_tones, a_genes, a_gene_pos,
       a_note),
      (80, 47, 583, 72), (80, 103, 578, 112), (0.1, 0.9), 'none', (80, 24, 578, 40), 2,
      (318, 560), 606, True)

panel('b', (80, 765, 583, 1118), b_xlim, b_xticks,
      ([(b_x, b_y), (b_x2, b_y2)], b_col_pos, b_col_vals, (b_black_edges, b_black_vals),
       (b_yellow_edges, b_yellow_vals), b_band_edges, b_band_names, b_band_tones, b_genes, b_gene_pos,
       b_note),
      (80, 667, 583, 693), (80, 722, 583, 745), (0.58, 0.96), '#eeeeee', (80, 642, 583, 661), 1,
      (353, 1177), 1225, False)

panel('c', (79, 1387, 575, 1750), c_xlim, c_xticks,
      ([(c_x, c_y), (c_x2, c_y2)], c_col_pos, c_col_vals, (c_black_edges, c_black_vals),
       (c_yellow_edges, c_yellow_vals), c_band_edges, c_band_names, c_band_tones, c_genes, c_gene_pos,
       c_note),
      (79, 1289, 583, 1314), (79, 1345, 583, 1368), (0.62, 0.97), '#eeeeee', (79, 1263, 575, 1279), 1,
      (327, 1812), 1860, False)

panel('d', (78.5, 2015, 579, 2372), d_xlim, d_xticks,
      ([(d_x, d_y), (d_x2, d_y2)], d_col_pos, d_col_vals, (d_black_edges, d_black_vals),
       (d_yellow_edges, d_yellow_vals), d_band_edges, d_band_names, d_band_tones, d_genes, d_gene_pos,
       d_note),
      (78.5, 1918, 579, 1944), (78.5, 1974, 579, 1996), (0.62, 0.97), '#eeeeee', (78.5, 1898, 579, 1911), 1,
      (356, 2430), 2476, True)

fig.savefig('out.png', dpi=100)
